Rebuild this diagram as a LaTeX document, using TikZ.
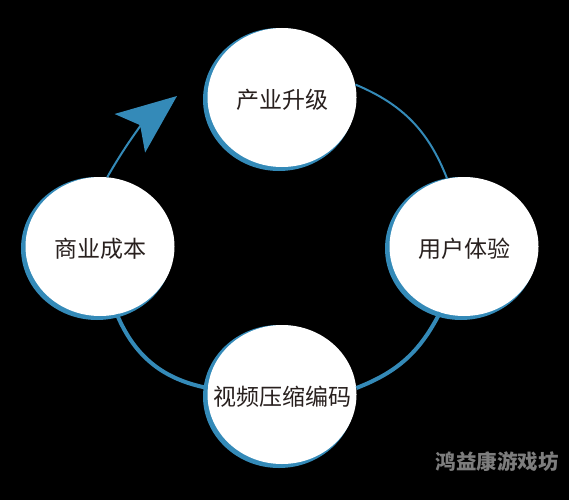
\documentclass[tikz,border=0pt]{standalone}
\usepackage{fontspec}
\newfontfamily\cjk{Noto Sans CJK SC}
\usetikzlibrary{shapes.geometric,arrows.meta}
\definecolor{ringblue}{RGB}{52,138,184}
\definecolor{txt}{RGB}{40,32,30}
\definecolor{wm}{RGB}{125,125,125}
\newcommand{\bubbletext}[1]{\raisebox{-10.5pt}[0pt][0pt]{\makebox[0pt]{#1}}}
\tikzset{
  shadowblob/.style={fill=ringblue},
  bubble/.style={ellipse, fill=white, minimum width=149pt, minimum height=139pt, inner sep=0pt,
    font=\cjk\fontsize{23}{23}\selectfont, text=txt},
  thinring/.style={draw=ringblue, line width=2pt},
  thickring/.style={draw=ringblue, line width=4pt},
}
\begin{document}
\begin{tikzpicture}[x=1pt,y=1pt]
\fill[black] (0,0) rectangle (569,-500);
\useasboundingbox (0,0) rectangle (569,-500);
% blue shadows
\fill[shadowblob] (279,-99.5) ellipse [x radius=76, y radius=71.5];
\fill[shadowblob] (97,-248.5) ellipse [x radius=76, y radius=71.5];
\fill[shadowblob] (461,-248.5) ellipse [x radius=76, y radius=71.5];
\fill[shadowblob] (279,-396.5) ellipse [x radius=76, y radius=71.5];
% white bubbles
\node[bubble] (top) at (282,-97.5) {\bubbletext{产业升级}};
\node[bubble] (left) at (100,-246.5) {\bubbletext{商业成本}};
\node[bubble] (right) at (464,-246.5) {\bubbletext{用户体验}};
\node[bubble] (bottom) at (282,-394.5) {\bubbletext{视频压缩编码}};
% ring connectors
\coordinate (tip) at (177,-96);
\draw[thinring] (top.10) to[bend left=23] (right.104);
\draw[thickring] (right.250) to[bend left=21] (bottom.5);
\draw[thickring] (bottom.175) to[bend left=28] (left.284);
\draw[thinring, -{Stealth[length=60pt, width=49pt, inset=13pt]}] (left.84) to[bend left=11] (tip);
% watermark
\node[font=\cjk\bfseries\fontsize{20.5}{20.5}\selectfont, text=wm] (wmark) at (497,-462) {鸿益康游戏坊};
\end{tikzpicture}
\end{document}
